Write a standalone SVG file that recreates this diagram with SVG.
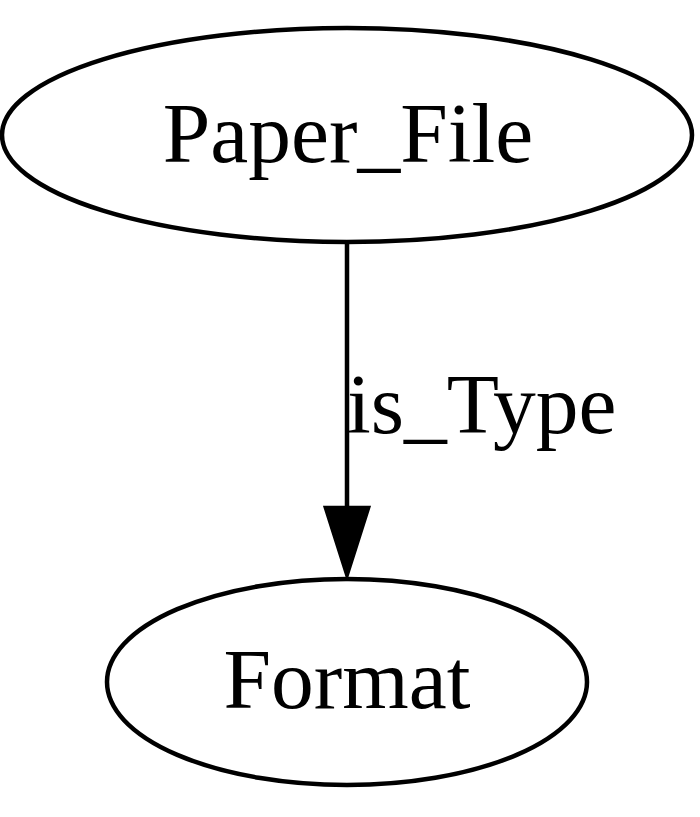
<svg xmlns="http://www.w3.org/2000/svg" width="700" height="817" viewBox="0 0 700 817">
<style>
.n ellipse{fill:none;stroke:#000;stroke-width:4.5}
text{font-family:"Liberation Serif","Times New Roman",serif;font-size:85.5px;fill:#000}
.e path{stroke:#000;stroke-width:4.5;fill:none}
.e polygon{fill:#000;stroke:#000;stroke-width:4.5}
</style>
<rect width="700" height="817" fill="#fff"/>
<g id="Paper_File" class="n">
<ellipse cx="347" cy="135" rx="345" ry="107"/>
<text x="348" y="162" text-anchor="middle">Paper_File</text>
</g>
<g id="Format" class="n">
<ellipse cx="347" cy="682" rx="240" ry="103"/>
<text x="347" y="708" text-anchor="middle">Format</text>
</g>
<g id="edges" class="e">
<path d="M347,243 L347,508"/>
<polygon points="326,508 368,508 347,574"/>
<text x="347" y="433">is_Type</text>
</g>
</svg>
